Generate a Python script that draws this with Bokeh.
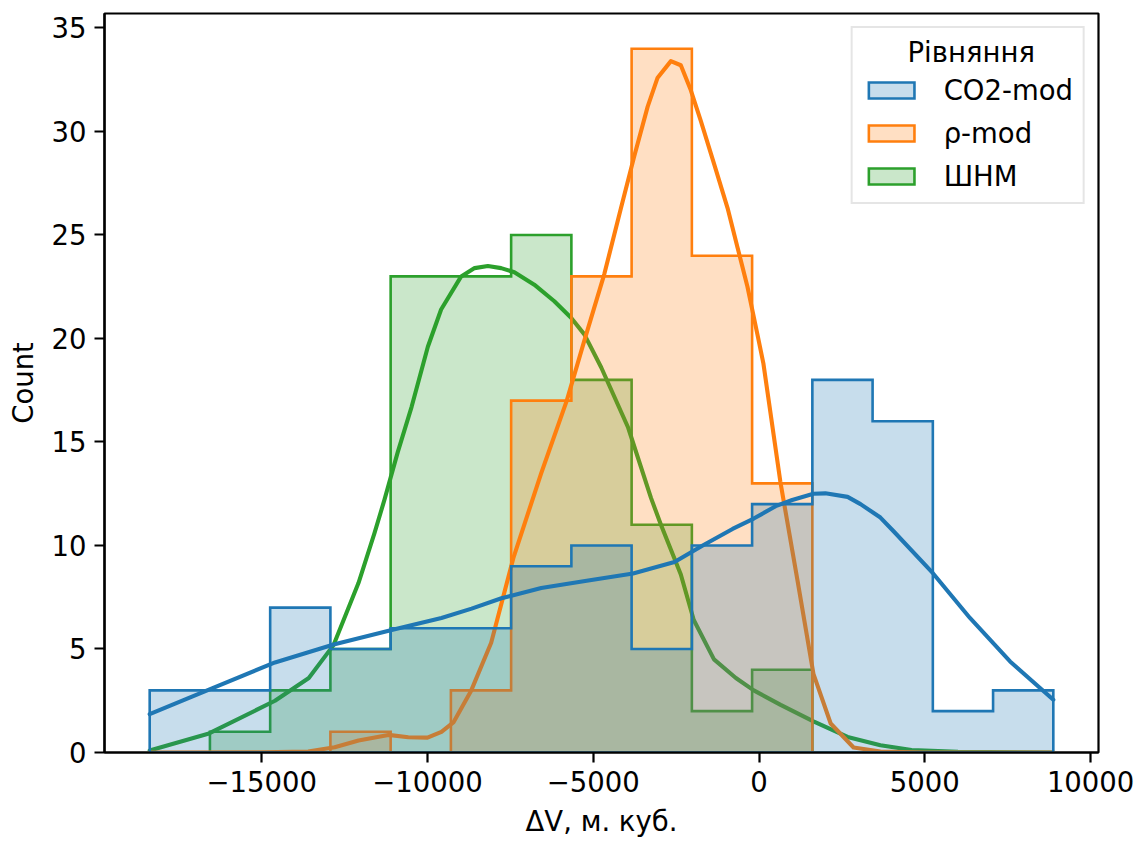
import numpy as np
from bokeh.plotting import figure
from bokeh.models import Range1d, FixedTicker, CustomJSTickFormatter, Legend, LegendItem, Label
from bokeh.embed import file_html
from bokeh.resources import INLINE

# ---------------- data ----------------
series_names = ["CO2-mod", "ρ-mod", "ШНМ"]
colors = ["#1f77b4", "#ff7f0e", "#2ca02c"]

data_min = -18380.0
data_max = 8875.0
n_bins = 15

counts_co2 = [3, 3, 7, 5, 6, 6, 9, 10, 5, 10, 12, 18, 16, 2, 3]
counts_rho = [0, 0, 0, 1, 0, 3, 17, 23, 34, 24, 13, 0, 0, 0, 0]
counts_shnm = [0, 1, 3, 5, 23, 23, 25, 18, 11, 2, 4, 0, 0, 0, 0]

kde_co2_x = [-18380, -16500, -14600, -12830, -11020, -9580, -8670, -7770, -6570, -5200, -3800,
             -2550, -1700, -800, -160, 500, 1000, 1640, 2000, 2670, 3060, 3660, 4050, 5250,
             6360, 7570, 8875]
kde_co2_y = [1.85, 3.1, 4.35, 5.22, 5.94, 6.5, 6.95, 7.45, 7.95, 8.3, 8.65,
             9.2, 10.0, 10.8, 11.3, 11.9, 12.2, 12.5, 12.52, 12.35, 12.0, 11.35, 10.7, 8.65,
             6.5, 4.4, 2.55]

kde_rho_x = [-18380, -15000, -13600, -12800, -12080, -11180, -10580, -10000, -9580, -9220,
             -8680, -8080, -7410, -6570, -5800, -5270, -4670, -4165, -3765, -3360, -3060,
             -2660, -2360, -2060, -1755, -1350, -950, -650, -350, -50, 130, 640, 1160, 1640,
             2160, 2850, 3660, 5000, 8875]
kde_rho_y = [0.0, 0.01, 0.05, 0.25, 0.58, 0.85, 0.74, 0.72, 1.0, 1.45,
             3.0, 5.3, 9.4, 13.5, 17.0, 19.9, 23.1, 26.3, 28.8, 31.2, 32.6,
             33.4, 33.2, 32.0, 30.5, 28.4, 26.3, 24.4, 22.5, 20.2, 18.8, 13.1, 8.3, 3.8,
             1.4, 0.24, 0.05, 0.0, 0.0]

kde_shnm_x = [-18380, -16590, -14600, -13580, -12830, -12080, -11600, -11300, -10900, -10480,
              -9990, -9590, -8985, -8580, -8180, -7780, -7380, -6780, -6175, -5670, -5270,
              -4760, -3950, -3260, -2960, -2360, -1970, -1360, -700, -160, 650, 1640, 2670,
              3660, 4600, 6000, 8875]
kde_shnm_y = [0.1, 0.92, 2.5, 3.6, 5.2, 8.2, 10.6, 12.2, 14.5, 16.7,
              19.6, 21.4, 23.0, 23.4, 23.5, 23.4, 23.2, 22.6, 21.8, 21.0, 20.2,
              18.6, 15.7, 12.3, 11.0, 8.6, 6.4, 4.5, 3.6, 3.0, 2.3, 1.5, 0.75,
              0.35, 0.12, 0.03, 0.0]

x_ticks = [-15000, -10000, -5000, 0, 5000, 10000]
y_ticks = [0, 5, 10, 15, 20, 25, 30, 35]

x_label = "ΔV, м. куб."
y_label = "Count"
legend_title = "Рівняння"

# ---------------- figure ----------------
FONT = "DejaVu Sans"
FS = "27.5px"

edges = np.linspace(data_min, data_max, n_bins + 1)
span = data_max - data_min
x0, x1 = data_min - 0.05 * span, data_max + 0.05 * span
y1 = max(max(counts_co2), max(counts_rho), max(counts_shnm)) * 1.05
x_range = Range1d(x0, x1)
y_range = Range1d(0, y1)

p = figure(width=1141, height=842, output_backend="svg", toolbar_location=None,
           x_range=x_range, y_range=y_range)
p.min_border_left = 104
p.min_border_right = 43
p.min_border_top = 13
p.min_border_bottom = 90
p.background_fill_color = "white"
p.border_fill_color = "white"
p.grid.grid_line_color = None
p.outline_line_color = "black"
p.outline_line_width = 2.2


def step_polygon(counts):
    xs, ys = [edges[0]], [0.0]
    for i, c in enumerate(counts):
        xs += [edges[i], edges[i + 1]]
        ys += [c, c]
    xs.append(edges[-1])
    ys.append(0.0)
    return xs, ys


all_counts = [counts_co2, counts_rho, counts_shnm]
all_kde = [(kde_co2_x, kde_co2_y), (kde_rho_x, kde_rho_y), (kde_shnm_x, kde_shnm_y)]
patch_renderers = {}
# seaborn draws hue levels in reverse order
for idx in [2, 1, 0]:
    xs, ys = step_polygon(all_counts[idx])
    r = p.patch(xs, ys, fill_color=colors[idx], fill_alpha=0.25,
                line_color=colors[idx], line_width=2.6, line_join="miter")
    patch_renderers[idx] = r
    kx, ky = all_kde[idx]
    p.line(kx, ky, line_color=colors[idx], line_width=4.1, line_cap="round",
           line_join="round")

# axes
p.xaxis.ticker = FixedTicker(ticks=x_ticks, minor_ticks=[])
p.yaxis.ticker = FixedTicker(ticks=y_ticks, minor_ticks=[])
p.xaxis.formatter = CustomJSTickFormatter(
    code="return (tick < 0 ? '\\u2212' : '') + Math.abs(tick).toFixed(0);")
p.xaxis.axis_label = x_label
p.yaxis.axis_label = y_label
for ax in [p.xaxis[0], p.yaxis[0]]:
    ax.axis_line_color = "black"
    ax.axis_line_width = 2.2
    ax.major_tick_line_color = "black"
    ax.major_tick_line_width = 2.2
    ax.major_tick_out = 10
    ax.major_tick_in = 0
    ax.minor_tick_line_color = None
    ax.major_label_text_font = FONT
    ax.major_label_text_font_size = FS
    ax.major_label_text_color = "black"
    ax.major_label_standoff = 8
    ax.axis_label_text_font = FONT
    ax.axis_label_text_font_size = FS
    ax.axis_label_text_font_style = "normal"
    ax.axis_label_text_color = "black"
    ax.axis_label_standoff = 10
p.yaxis.major_label_orientation = "horizontal"

legend = Legend(
    items=[LegendItem(label=series_names[i], renderers=[patch_renderers[i]]) for i in range(3)],
    title=" ",
    location="top_right",
)
legend.margin = 13
legend.padding = 10
legend.spacing = 11
legend.glyph_width = 57
legend.glyph_height = 20
legend.label_standoff = 24
legend.label_text_font = FONT
legend.label_text_font_size = FS
legend.label_text_color = "black"
legend.title_text_font = FONT
legend.title_text_font_size = FS
legend.title_text_font_style = "normal"
legend.title_standoff = 4
legend.border_line_color = "#cccccc"
legend.border_line_width = 2
legend.background_fill_color = None
p.add_layout(legend)

# centred legend title (matplotlib centres it over the entries)
title_label = Label(x=x1 - 0.128 * (x1 - x0), y=y1 - 0.052 * y1, text=legend_title,
                    text_font=FONT, text_font_size=FS, text_color="black",
                    text_align="center", text_baseline="middle", level="overlay")
p.add_layout(title_label)

open("out.html", "w").write(file_html(p, INLINE))
